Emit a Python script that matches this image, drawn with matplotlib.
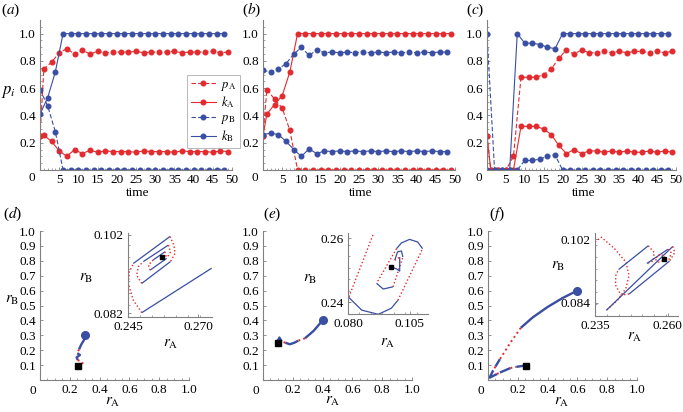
import numpy as np
import matplotlib
matplotlib.use("Agg")
import matplotlib.pyplot as plt

plt.rcParams['font.family'] = ['Liberation Serif', 'DejaVu Serif']
plt.rcParams['mathtext.fontset'] = 'stix'

RED = '#e32b2f'
BLUE = '#3a4ea3'
AXC = '#808080'

# ---- top row: time series (red at t=0,1,3,...; blue at t=0,2,4,...)
t_red = [0] + list(range(1, 50, 2))
t_blue = list(range(0, 49, 2))

a_pA = [0.25, 0.74, 0.79, 0.86, 0.89, 0.85, 0.88, 0.85, 0.87, 0.86, 0.865, 0.865, 0.865, 0.87,
        0.86, 0.865, 0.865, 0.865, 0.87, 0.86, 0.865, 0.865, 0.865, 0.87, 0.86, 0.865]
a_kA = [0.25, 0.255, 0.21, 0.14, 0.10, 0.15, 0.12, 0.145, 0.13, 0.14, 0.135, 0.135, 0.135, 0.13,
        0.14, 0.135, 0.135, 0.135, 0.13, 0.14, 0.135, 0.135, 0.135, 0.13, 0.14, 0.135]
a_pB = [0.59, 0.47, 0.28] + [0.0] * 22
a_kB = [0.41, 0.53, 0.72] + [1.0] * 22

b_pA = [0.25, 0.59, 0.52, 0.455, 0.29] + [0.0] * 21
b_kA = [0.25, 0.41, 0.48, 0.545, 0.72] + [1.0] * 21
b_pB = [0.73, 0.72, 0.74, 0.78, 0.85, 0.90, 0.84, 0.88, 0.86, 0.865, 0.86, 0.865, 0.86,
        0.865, 0.86, 0.865, 0.86, 0.865, 0.86, 0.865, 0.86, 0.865, 0.86, 0.865, 0.865]
b_kB = [0.26, 0.27, 0.26, 0.21, 0.15, 0.10, 0.155, 0.12, 0.14, 0.135, 0.14, 0.135, 0.14,
        0.135, 0.14, 0.135, 0.14, 0.135, 0.14, 0.135, 0.14, 0.135, 0.14, 0.135, 0.135]

c_pA = [0.25, 0.0, 0.0, 0.0, 0.10, 0.68, 0.68, 0.68, 0.70, 0.74, 0.82, 0.88, 0.85, 0.88,
        0.86, 0.86, 0.87, 0.86, 0.87, 0.86, 0.87, 0.87, 0.86, 0.87, 0.86, 0.87]
c_kA = [0.25, 0.0, 0.0, 0.0, 0.0, 0.32, 0.32, 0.32, 0.30, 0.26, 0.18, 0.12, 0.15, 0.12,
        0.14, 0.14, 0.13, 0.14, 0.13, 0.14, 0.13, 0.13, 0.14, 0.13, 0.14, 0.13]
c_pB = [1.0, 0.0, 0.0, 0.0, 0.0, 0.07, 0.07, 0.08, 0.10, 0.11] + [0.0] * 15
c_kB = [0.0, 0.0, 0.0, 0.0, 1.0, 0.93, 0.93, 0.92, 0.90, 0.89] + [1.0] * 15

# ---- bottom row: trajectories (path points + style per segment, b=blue solid, r=red dotted)
d_x = [0.30, 0.295, 0.275, 0.262, 0.25, 0.268, 0.246, 0.253, 0.28, 0.29, 0.27, 0.257]
d_y = [0.30, 0.268, 0.235, 0.205, 0.18, 0.168, 0.152, 0.134, 0.123, 0.105, 0.092, 0.097]
d_s = "bbbrbbbrrrr"

e_x = [0.40, 0.34, 0.282, 0.237, 0.21, 0.18, 0.15, 0.125, 0.11, 0.10, 0.098]
e_y = [0.40, 0.33, 0.28, 0.264, 0.25, 0.24, 0.25, 0.26, 0.285, 0.265, 0.251]
e_s = "bbrbbbrbbr"

f_x = [0.60, 0.50, 0.40, 0.30, 0.22, 0.15, 0.08, 0.05, 0.035, 0.01, 0.06, 0.08, 0.15, 0.19, 0.24, 0.258]
f_y = [0.60, 0.55, 0.49, 0.42, 0.35, 0.25, 0.14, 0.09, 0.065, 0.015, 0.04, 0.05, 0.08, 0.088, 0.096, 0.097]
f_s = "bbbbrrbrbbrbrbr"

# insets
di_x = [0.2779, 0.2749, 0.2499, 0.2469, 0.2451, 0.2455, 0.2469, 0.2600, 0.2614, 0.2618, 0.2602, 0.2499,
        0.2481, 0.2487, 0.2505, 0.2594, 0.2602, 0.2588, 0.2529, 0.2523, 0.2540, 0.2582, 0.2586, 0.2570]
di_y = [0.0952, 0.0935, 0.0821, 0.0853, 0.0896, 0.0926, 0.0947, 0.1016, 0.0994, 0.0973, 0.0952, 0.0896,
        0.0917, 0.0939, 0.0952, 0.0994, 0.0977, 0.0960, 0.0930, 0.0943, 0.0956, 0.0977, 0.0966, 0.0963]
di_s = "rbrrrrbrrrbrrrbrrbrrbrr"

ei_x = [0.0912, 0.0803, 0.0856, 0.0923, 0.0976, 0.1003, 0.1103, 0.1083, 0.1050, 0.1017, 0.0997,
        0.0916, 0.0943, 0.0983, 0.1023, 0.1017, 0.1001, 0.0990, 0.1010, 0.1010, 0.0997, 0.0976]
ei_y = [0.2632, 0.2416, 0.2376, 0.2363, 0.2382, 0.2407, 0.2568, 0.2589, 0.2597, 0.2586, 0.2568,
        0.2460, 0.2442, 0.2449, 0.2542, 0.2561, 0.2558, 0.2532, 0.2542, 0.2498, 0.2505, 0.2511]
ei_s = "rbbbbrbbbbrbbrbbbrbbb"

fi_x = [0.2350, 0.2372, 0.2417, 0.2456, 0.2467, 0.2456, 0.2428, 0.2389, 0.2617, 0.2624, 0.2606, 0.2467,
        0.2439, 0.2420, 0.2422, 0.2431, 0.2533, 0.2553, 0.2550, 0.2528, 0.2600, 0.2611, 0.2606, 0.2567,
        0.2556, 0.2572, 0.2589, 0.2587]
fi_y = [0.1012, 0.1025, 0.0993, 0.0955, 0.0917, 0.0881, 0.0848, 0.0819, 0.0999, 0.0982, 0.0958, 0.0865,
        0.0862, 0.0891, 0.0919, 0.0934, 0.1001, 0.0982, 0.0958, 0.0951, 0.0991, 0.0982, 0.0964, 0.0955,
        0.0964, 0.0977, 0.0972, 0.0964]
fi_s = "rrrrrrrbrrbrrrrbrrrbrrrrrrr"

W, H = 683, 412
fig = plt.figure(figsize=(6.83, 4.12), dpi=100)


def box(l, t, r, b):
    return [l / W, 1 - b / H, (r - l) / W, (b - t) / H]


def ftext(x, y, s, **kw):
    fig.text(x / W, 1 - y / H, s, ha='center', va='center', **kw)


def style_axes(ax, fs=9.5):
    for s in ['top', 'right']:
        ax.spines[s].set_visible(False)
    for s in ['left', 'bottom']:
        ax.spines[s].set_color(AXC)
        ax.spines[s].set_linewidth(0.8)
    ax.tick_params(direction='in', length=2.5, width=0.6, color=AXC, labelsize=fs, pad=3)
    ax.tick_params(which='minor', direction='in', length=1.5, width=0.5, color=AXC)
    ax.patch.set_alpha(0)


def draw_path(ax, xs, ys, styles, lw_b=1.0, lw_r=1.1):
    i = 0
    while i < len(styles):
        j = i
        while j < len(styles) and styles[j] == styles[i]:
            j += 1
        if styles[i] == 'b':
            ax.plot(xs[i:j + 1], ys[i:j + 1], color=BLUE, lw=lw_b, solid_capstyle='butt')
        else:
            ax.plot(xs[i:j + 1], ys[i:j + 1], color=RED, lw=lw_r, ls=(0, (1, 1.6)))
        i = j


# ---- top row
top = [(40, 232, a_pA, a_kA, a_pB, a_kB, 'a'),
       (263, 455, b_pA, b_kA, b_pB, b_kB, 'b'),
       (487, 676, c_pA, c_kA, c_pB, c_kB, 'c')]
lab_x = {'a': 11, 'b': 252, 'c': 475}
for l, r, pA, kA, pB, kB, name in top:
    ax = fig.add_axes(box(l, 20, r, 170))
    ax.plot(t_red, pA, color=RED, lw=0.8, ls=(0, (4, 2)), marker='o', ms=3.3, label=r'$p_{\rm A}$')
    ax.plot(t_red, kA, color=RED, lw=0.8, marker='o', ms=3.3, label=r'$k_{\rm A}$')
    ax.plot(t_blue, pB, color=BLUE, lw=0.8, ls=(0, (4, 2)), marker='o', ms=3.3, label=r'$p_{\rm B}$')
    ax.plot(t_blue, kB, color=BLUE, lw=0.8, marker='o', ms=3.3, label=r'$k_{\rm B}$')
    ax.set_xlim(0, 50)
    ax.set_ylim(0, 1.1)
    ax.set_xticks(range(5, 51, 5))
    ax.set_yticks([0.2, 0.4, 0.6, 0.8, 1.0])
    ax.set_xticks(np.arange(1, 50, 1), minor=True)
    ax.set_yticks(np.arange(0.05, 1.1, 0.05), minor=True)
    ax.set_yticklabels(['0.2', '0.4', '0.6', '0.8', '1.0'])
    style_axes(ax)
    ftext(l - 8, 178, '0', fontsize=9.5)
    ftext((l + r) / 2 + 2, 193, 'time', fontsize=9.5)
    ftext(lab_x[name], 10, '($' + name + '$)', fontsize=11)
    if name == 'a':
        leg = ax.legend(loc='upper left', bbox_to_anchor=((187 - l) / (r - l), (170 - 75) / 150),
                        fontsize=9, handlelength=2.0, handletextpad=0.4, borderpad=0.3,
                        labelspacing=0.15, frameon=True, fancybox=False, borderaxespad=0)
        leg.get_frame().set_edgecolor('#999999')
        leg.get_frame().set_linewidth(0.6)

ftext(8, 92, r'$p_i$', fontsize=12)

# ---- bottom row
bottom = [(40, 189, d_x, d_y, d_s, 'd', (128, 233, 212, 317), di_x, di_y, di_s,
           (0.245, 0.275), (0.081, 0.1025), [0.245, 0.270], [0.082, 0.102], ['0.245', '0.270'], ['0.082', '0.102']),
          (263, 412, e_x, e_y, e_s, 'e', (348, 233, 428, 314), ei_x, ei_y, ei_s,
           (0.080, 0.1125), (0.2364, 0.2617), [0.080, 0.105], [0.24, 0.26], ['0.080', '0.105'], ['0.24', '0.26']),
          (488, 637, f_x, f_y, f_s, 'f', (595, 233, 678, 316), fi_x, fi_y, fi_s,
           (0.235, 0.2635), (0.0803, 0.1037), [0.235, 0.260], [0.084, 0.102], ['0.235', '0.260'], ['0.084', '0.102'])]
plab = {'d': 13, 'e': 272, 'f': 497}
inset_rb = {'d': (86, 278), 'e': (310, 279), 'f': (558, 266)}
inset_ra = {'d': (171, 344), 'e': (388, 343), 'f': (635, 337)}
main_ra = {'d': (113, 402), 'e': (333, 401), 'f': (562, 402)}

for (l, r, xs, ys, ss, name, ib, ix, iy, iss, ixl, iyl, ixt, iyt, ixtl, iytl) in bottom:
    ax = fig.add_axes(box(l, 231, r, 380))
    draw_path(ax, xs, ys, ss, lw_b=1.7, lw_r=1.4)
    ax.plot(xs[0], ys[0], 'o', color=BLUE, ms=5.5)
    ax.plot(xs[-1], ys[-1], 's', color='black', ms=4.5)
    ax.set_xlim(0, 1.0)
    ax.set_ylim(0, 1.0)
    ax.set_xticks([0.2, 0.4, 0.6, 0.8, 1.0])
    ax.set_xticklabels(['0.2', '0.4', '0.6', '0.8', '1.0'])
    ax.set_yticks(np.arange(0.1, 1.01, 0.1))
    ax.set_yticklabels(['%.1f' % v for v in np.arange(0.1, 1.01, 0.1)])
    ax.set_xticks(np.arange(0.05, 1.0, 0.05), minor=True)
    style_axes(ax)
    ftext(l - 7, 391, '0', fontsize=9.5)
    ftext(*main_ra[name], r'$r_{\rm A}$', fontsize=11)
    ftext(plab[name], 214, '($' + name + '$)', fontsize=11)

    axi = fig.add_axes(box(*ib))
    draw_path(axi, ix, iy, iss, lw_b=0.9, lw_r=1.0)
    axi.plot(ix[-1], iy[-1], 's', color='black', ms=2.2)
    axi.set_xlim(*ixl)
    axi.set_ylim(*iyl)
    axi.set_xticks(ixt)
    axi.set_xticklabels(ixtl)
    axi.set_yticks(iyt)
    axi.set_yticklabels(iytl)
    axi.set_xticks(np.linspace(ixl[0], ixl[1], 8)[1:-1], minor=True)
    axi.set_yticks(np.linspace(iyl[0], iyl[1], 8)[1:-1], minor=True)
    style_axes(axi)
    ftext(*inset_rb[name], r'$r_{\rm B}$', fontsize=11)
    ftext(*inset_ra[name], r'$r_{\rm A}$', fontsize=11)

ftext(12, 300, r'$r_{\rm B}$', fontsize=11)

fig.savefig('out.png', dpi=100)
